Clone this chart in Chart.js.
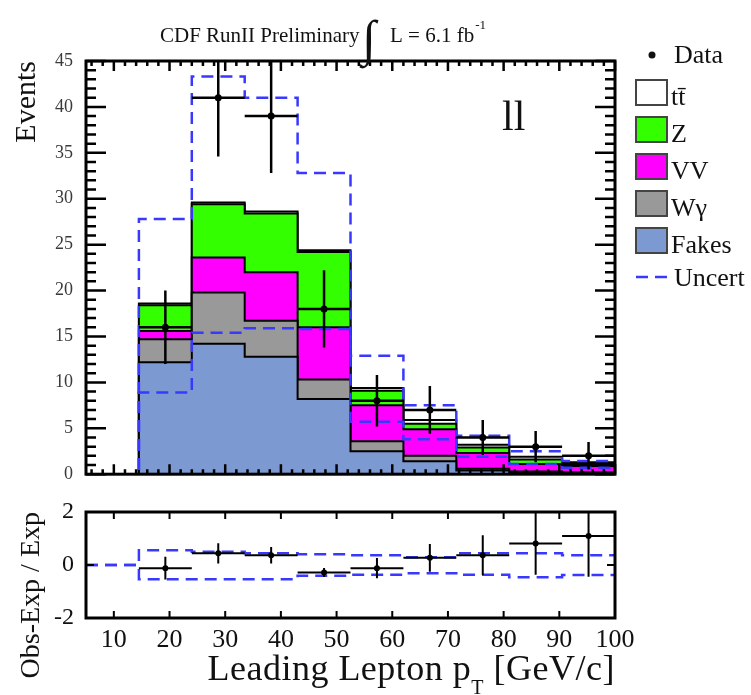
<!DOCTYPE html>
<html lang="en">
<head>
  <meta charset="utf-8"/>
  <title>CDF RunII Preliminary - Leading Lepton pT (ll)</title>
  <script src="https://cdn.jsdelivr.net/npm/chart.js"></script>
  <style>
    body { margin: 0; background: #fff; }
    #wrap { position: relative; width: 751px; height: 695px; }
    canvas { position: absolute; left: 0; }
  </style>
</head>
<body>
<div id="wrap">
  <canvas id="mainChart" width="751" height="490" style="top:0"></canvas>
  <canvas id="ratioChart" width="751" height="205" style="top:490px"></canvas>
</div>
<script>
// bins in leading lepton pT [GeV/c]
const binEdges = [5, 14.5, 24, 33.5, 43, 52.5, 62, 71.5, 81, 90.5, 100];

// expected backgrounds per bin (events)
const fakes  = [0, 12.2, 14.2, 12.8, 8.2, 2.5, 1.4, 0.4, 0.2, 0.1];
const wgamma = [0, 2.5, 5.6, 3.9, 2.1, 1.1, 0.6, 0.2, 0.1, 0.1];
const vv     = [0, 0.9, 3.8, 5.3, 5.7, 3.9, 2.9, 1.7, 0.8, 0.7];
const zjets  = [0, 2.8, 5.8, 6.4, 8.2, 1.6, 0.6, 0.6, 0.5, 0.2];
const ttbar  = [0, 0.2, 0.2, 0.2, 0.2, 0.3, 0.4, 0.3, 0.3, 0.2];

// observed data
const dataVals = [null, 16, 41, 39, 18, 8, 7, 4, 3, 2];
const dataErr  = [0, 4, 6.4, 6.2, 4.2, 2.8, 2.6, 1.9, 1.7, 1.5];

// uncertainty band edges
const uncUp = [0, 27.8, 43.3, 41.0, 32.8, 12.9, 7.5, 4.2, 2.5, 1.45];
const uncDn = [0, 8.9, 15.4, 15.9, 15.8, 5.7, 3.8, 1.9, 1.1, 0.7];

// (Obs-Exp)/Exp panel
const ratioVals = [null, -0.12, 0.44, 0.37, -0.28, -0.12, 0.27, 0.37, 0.81, 1.09];
const ratioErr  = [0, 0.43, 0.38, 0.31, 0.17, 0.38, 0.52, 0.75, 1.18, 1.53];
const ratioUp   = [0, 0.56, 0.5, 0.44, 0.41, 0.37, 0.29, 0.44, 0.44, 0.37];
const ratioDn   = [0, -0.54, -0.54, -0.54, -0.41, -0.37, -0.31, -0.37, -0.46, -0.38];

// tick labels
const yTicksMain  = [0, 5, 10, 15, 20, 25, 30, 35, 40, 45];
const xTicks      = [10, 20, 30, 40, 50, 60, 70, 80, 90, 100];
const yTicksRatio = [-2, 0, 2];

const legendLabels = ['t\u0074\u0304', 'Z', 'VV', 'W\u03b3', 'Fakes'];
const legendColors = ['#ffffff', '#33ff00', '#ff00ff', '#999999', '#7d99d1'];

const SERIF = '"Liberation Serif", "DejaVu Serif", serif';
const UNC_COLOR = '#3838ff';

const centers = binEdges.slice(0, -1).map((e, i) => (e + binEdges[i + 1]) / 2);
const steps = vals => binEdges.map((e, i) => ({x: e, y: vals[Math.min(i, vals.length - 1)]}));
const points = vals => centers.map((c, i) => ({x: c, y: vals[i]})).filter(p => p.y !== null);
const cumulate = (...layers) => layers[0].map((_, i) => layers.reduce((s, l) => s + l[i], 0));
const range = (a, b, s) => { const r = []; for (let v = a; v <= b + 1e-9; v += s) r.push(v); return r; };

function histLine(label, vals, color) {
  return {
    label: label, data: steps(vals), stepped: 'before',
    borderColor: '#000', borderWidth: 2, backgroundColor: color,
    fill: 'origin', pointRadius: 0, order: 0
  };
}
function dashLine(label, vals) {
  return {
    label: label, data: steps(vals), stepped: 'before',
    borderColor: UNC_COLOR, borderWidth: 2.5, borderDash: [12, 7],
    fill: false, pointRadius: 0, order: -1
  };
}
function dataPoints(vals, r) {
  return {
    label: 'Data', data: points(vals), showLine: false,
    pointRadius: r, pointBackgroundColor: '#000', pointBorderWidth: 0, order: -2
  };
}

// error bars drawn just before the data markers
const errorBars = {
  id: 'errorBars',
  beforeDatasetDraw(chart, args, o) {
    if (chart.data.datasets[args.index].label !== 'Data') return;
    const {ctx, chartArea: a, scales: {x, y}} = chart;
    ctx.save();
    ctx.beginPath();
    ctx.rect(a.left, a.top, a.right - a.left, a.bottom - a.top);
    ctx.clip();
    ctx.strokeStyle = '#000';
    ctx.lineWidth = o.width;
    o.vals.forEach((v, i) => {
      if (v === null) return;
      const py = y.getPixelForValue(v);
      const px = x.getPixelForValue(centers[i]);
      ctx.beginPath();
      ctx.moveTo(x.getPixelForValue(binEdges[i]), py);
      ctx.lineTo(x.getPixelForValue(binEdges[i + 1]), py);
      ctx.moveTo(px, y.getPixelForValue(v + o.errs[i]));
      ctx.lineTo(px, y.getPixelForValue(v - o.errs[i]));
      ctx.stroke();
    });
    ctx.restore();
  }
};

// ROOT-like frame with inward ticks on all four sides
const frame = {
  id: 'frame',
  afterDraw(chart, args, o) {
    const {ctx, chartArea: a, scales: {x, y}} = chart;
    ctx.save();
    ctx.strokeStyle = '#000';
    ctx.lineWidth = o.tickWidth;
    ctx.beginPath();
    const tickX = (vals, len) => vals.forEach(v => {
      const px = x.getPixelForValue(v);
      ctx.moveTo(px, a.bottom); ctx.lineTo(px, a.bottom - len);
      ctx.moveTo(px, a.top); ctx.lineTo(px, a.top + len);
    });
    const tickY = (vals, len) => vals.forEach(v => {
      const py = y.getPixelForValue(v);
      ctx.moveTo(a.left, py); ctx.lineTo(a.left + len, py);
      ctx.moveTo(a.right, py); ctx.lineTo(a.right - len, py);
    });
    tickX(o.xMinor, o.xMinorLen); tickX(o.xMajor, o.xMajorLen);
    tickY(o.yMinor, o.yMinorLen); tickY(o.yMajor, o.yMajorLen);
    ctx.stroke();
    ctx.lineWidth = o.frameWidth;
    ctx.strokeRect(a.left, a.top, a.right - a.left, a.bottom - a.top);
    ctx.restore();
  }
};

// header, channel label and legend
const annotations = {
  id: 'annotations',
  afterDraw(chart) {
    const ctx = chart.ctx;
    ctx.save();
    ctx.fillStyle = '#111';
    ctx.textBaseline = 'alphabetic';
    ctx.font = '21px ' + SERIF;
    ctx.fillText('CDF RunII Preliminary', 160, 42);
    ctx.font = 'italic 50px ' + SERIF;
    ctx.fillText('\u222b', 362, 55);
    ctx.font = '21px ' + SERIF;
    ctx.fillText('L = 6.1 fb', 390, 42);
    const w = ctx.measureText('L = 6.1 fb').width;
    ctx.font = '13px ' + SERIF;
    ctx.fillText('-1', 390 + w + 1, 29);

    ctx.font = '42px ' + SERIF;
    ctx.fillText('ll', 502, 130);

    // legend
    ctx.font = '26px ' + SERIF;
    ctx.beginPath();
    ctx.arc(652, 55, 3.5, 0, Math.PI * 2);
    ctx.fill();
    ctx.fillText('Data', 674, 63);
    legendLabels.forEach((lab, i) => {
      const top = 80 + i * 37;
      ctx.fillStyle = legendColors[i];
      ctx.fillRect(636, top, 31, 25);
      ctx.strokeStyle = '#444';
      ctx.lineWidth = 2;
      ctx.strokeRect(636, top, 31, 25);
      ctx.fillStyle = '#111';
      ctx.fillText(lab, 671, top + 25);
    });
    ctx.strokeStyle = UNC_COLOR;
    ctx.lineWidth = 2.5;
    ctx.setLineDash([12, 7]);
    ctx.beginPath();
    ctx.moveTo(636, 277); ctx.lineTo(667, 277);
    ctx.stroke();
    ctx.setLineDash([]);
    ctx.fillText('Uncert', 674, 286);
    ctx.restore();
  }
};

// x title with subscript
const xTitle = {
  id: 'xTitle',
  afterDraw(chart) {
    const {ctx, chartArea: a} = chart;
    ctx.save();
    ctx.fillStyle = '#111';
    ctx.letterSpacing = '0.5px';
    const big = '36px ' + SERIF, small = '20px ' + SERIF;
    const parts = [['Leading Lepton p', big, 0], ['T', small, 14], [' [GeV/c]', big, 0]];
    let w = 0;
    parts.forEach(p => { ctx.font = p[1]; w += ctx.measureText(p[0]).width; });
    let x0 = a.right - w;
    parts.forEach(p => {
      ctx.font = p[1];
      ctx.fillText(p[0], x0, 190 + p[2]);
      x0 += ctx.measureText(p[0]).width;
    });
    ctx.restore();
  }
};

const topStack = cumulate(fakes, wgamma, vv, zjets, ttbar);

new Chart(document.getElementById('mainChart'), {
  type: 'line',
  data: {
    datasets: [
      histLine('Fakes', fakes, legendColors[4]),
      histLine('W\u03b3', cumulate(fakes, wgamma), legendColors[3]),
      histLine('VV', cumulate(fakes, wgamma, vv), legendColors[2]),
      histLine('Z', cumulate(fakes, wgamma, vv, zjets), legendColors[1]),
      histLine('ttbar', topStack, legendColors[0]),
      dashLine('Uncert up', uncUp),
      dashLine('Uncert down', uncDn),
      dataPoints(dataVals, 3.5)
    ]
  },
  options: {
    responsive: false, animation: false, events: [],
    layout: { padding: { top: 61, right: 136, bottom: 15, left: 0 } },
    scales: {
      x: { type: 'linear', min: 5, max: 100, display: false },
      y: {
        type: 'linear', min: 0, max: 45,
        afterFit: s => { s.width = 86; },
        afterBuildTicks: s => { s.ticks = yTicksMain.map(v => ({value: v})); },
        grid: { display: false }, border: { display: false },
        ticks: { font: { family: SERIF, size: 18 }, color: '#3a3a3a', padding: 5 },
        title: { display: true, text: 'Events', align: 'end', color: '#111',
                 font: { family: SERIF, size: 30 }, padding: { top: 9, bottom: 0 } }
      }
    },
    plugins: {
      legend: { display: false }, tooltip: { enabled: false },
      errorBars: { vals: dataVals, errs: dataErr, width: 2.5 },
      frame: {
        tickWidth: 2.5, frameWidth: 3,
        xMinor: range(6, 98, 2), xMinorLen: 5, xMajor: xTicks, xMajorLen: 10,
        yMinor: range(0, 45, 1), yMinorLen: 10, yMajor: yTicksMain, yMajorLen: 20
      }
    }
  },
  plugins: [errorBars, frame, annotations]
});

new Chart(document.getElementById('ratioChart'), {
  type: 'line',
  data: {
    datasets: [
      dashLine('Uncert up', ratioUp),
      dashLine('Uncert down', ratioDn),
      dataPoints(ratioVals, 3)
    ]
  },
  options: {
    responsive: false, animation: false, events: [],
    layout: { padding: { top: 22, right: 136, bottom: 0, left: 0 } },
    scales: {
      x: {
        type: 'linear', min: 5, max: 100,
        afterFit: s => { s.height = 77; },
        afterBuildTicks: s => { s.ticks = xTicks.map(v => ({value: v})); },
        grid: { display: false }, border: { display: false },
        ticks: { font: { family: SERIF, size: 26 }, color: '#111', padding: -1,
                 maxRotation: 0, autoSkip: false }
      },
      y: {
        type: 'linear', min: -2, max: 2,
        afterFit: s => { s.width = 86; },
        afterBuildTicks: s => { s.ticks = yTicksRatio.map(v => ({value: v})); },
        grid: { display: false }, border: { display: false },
        ticks: { font: { family: SERIF, size: 24 }, color: '#111', padding: 4 },
        title: { display: true, text: 'Obs-Exp / Exp', align: 'end', color: '#111',
                 font: { family: SERIF, size: 28 }, padding: { top: 15, bottom: 0 } }
      }
    },
    plugins: {
      legend: { display: false }, tooltip: { enabled: false },
      errorBars: { vals: ratioVals, errs: ratioErr, width: 2 },
      frame: {
        tickWidth: 2, frameWidth: 3,
        xMinor: [], xMinorLen: 0, xMajor: xTicks, xMajorLen: 7,
        yMinor: [], yMinorLen: 0, yMajor: [0], yMajorLen: 8
      }
    }
  },
  plugins: [errorBars, frame, xTitle]
});
</script>
</body>
</html>
